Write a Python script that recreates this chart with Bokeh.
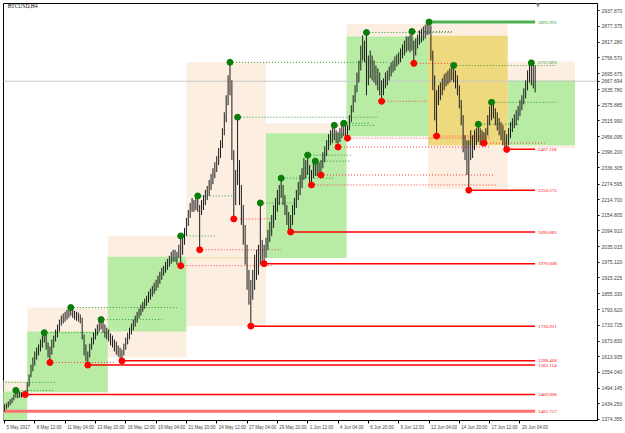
from bokeh.plotting import figure
from bokeh.models import Range1d, FixedTicker, CustomJSTickFormatter, LinearAxis
from bokeh.embed import file_html
from bokeh.resources import INLINE

# ---- H4 bars (BTCUSD), bar index 0 = 5 May 2017 20:00 ----
high = [1432, 1436, 1443, 1451, 1458, 1470, 1485, 1478, 1481, 1478,
        1481, 1485, 1516, 1546, 1584, 1611, 1634, 1649, 1661, 1680,
        1695, 1706, 1699, 1668, 1653, 1680, 1695, 1718, 1737, 1756,
        1771, 1779, 1786, 1794, 1798, 1802, 1794, 1790, 1786, 1783,
        1775, 1763, 1699, 1661, 1634, 1664, 1687, 1706, 1722, 1737,
        1752, 1756, 1748, 1737, 1725, 1718, 1703, 1695, 1680, 1672,
        1657, 1649, 1641, 1664, 1687, 1706, 1725, 1741, 1756, 1771,
        1786, 1798, 1813, 1824, 1836, 1847, 1863, 1874, 1885, 1897,
        1908, 1924, 1939, 1954, 1962, 1977, 1988, 2000, 2015, 2023,
        2023, 2015, 2042, 2076, 2069, 2107, 2145, 2175, 2202, 2221,
        2213, 2221, 2229, 2194, 2213, 2232, 2252, 2267, 2290, 2313,
        2335, 2358, 2381, 2412, 2442, 2488, 2549, 2614, 2690, 2740,
        2671, 2404, 2328, 2530, 2366, 2271, 2194, 2118, 2042, 1946,
        1908, 1946, 2004, 2023, 2042, 2202, 2061, 2042, 2069, 2099,
        2130, 2156, 2194, 2221, 2252, 2271, 2297, 2271, 2232, 2194,
        2168, 2156, 2194, 2221, 2252, 2282, 2309, 2335, 2374, 2366,
        2385, 2347, 2328, 2354, 2362, 2354, 2358, 2366, 2396, 2419,
        2442, 2465, 2480, 2488, 2499, 2480, 2473, 2488, 2503, 2507,
        2496, 2499, 2538, 2576, 2614, 2652, 2701, 2747, 2804, 2843,
        2823, 2854, 2766, 2785, 2766, 2747, 2728, 2717, 2701, 2671,
        2679, 2701, 2709, 2724, 2740, 2747, 2763, 2770, 2778, 2793,
        2808, 2823, 2839, 2839, 2846, 2858, 2823, 2831, 2846, 2862,
        2869, 2877, 2884, 2892, 2894, 2881, 2785, 2690, 2633, 2652,
        2663, 2679, 2694, 2701, 2709, 2717, 2724, 2728, 2709, 2690,
        2652, 2595, 2538, 2461, 2442, 2442, 2480, 2461, 2480, 2488,
        2503, 2488, 2480, 2473, 2488, 2538, 2572, 2587, 2587, 2564,
        2549, 2526, 2511, 2499, 2480, 2465, 2488, 2511, 2526, 2541,
        2557, 2572, 2595, 2614, 2640, 2671, 2709, 2736, 2738, 2736, 2728]

low = [1405, 1413, 1420, 1428, 1436, 1447, 1458, 1455, 1458, 1458,
       1462, 1469, 1474, 1500, 1535, 1558, 1580, 1603, 1619, 1634,
       1649, 1668, 1641, 1611, 1592, 1622, 1649, 1672, 1687, 1710,
       1733, 1741, 1748, 1756, 1763, 1771, 1763, 1756, 1752, 1748,
       1741, 1680, 1619, 1596, 1582, 1611, 1641, 1661, 1680, 1695,
       1710, 1718, 1706, 1687, 1680, 1672, 1657, 1649, 1634, 1622,
       1615, 1607, 1598, 1619, 1641, 1661, 1680, 1699, 1714, 1729,
       1744, 1760, 1771, 1786, 1798, 1809, 1821, 1832, 1844, 1855,
       1866, 1878, 1893, 1908, 1924, 1935, 1946, 1958, 1969, 1977,
       1977, 1966, 1992, 1962, 2004, 2042, 2076, 2114, 2145, 2168,
       2168, 2175, 2168, 2023, 2156, 2175, 2194, 2213, 2229, 2252,
       2274, 2297, 2320, 2347, 2374, 2412, 2461, 2511, 2576, 2614,
       2366, 2141, 2194, 2271, 2194, 2118, 2042, 1966, 1870, 1813,
       1731, 1832, 1870, 1908, 1927, 1966, 1977, 1970, 1992, 2023,
       2053, 2076, 2107, 2137, 2168, 2194, 2221, 2194, 2156, 2118,
       2099, 2091, 2118, 2156, 2183, 2213, 2232, 2259, 2290, 2297,
       2309, 2278, 2271, 2297, 2305, 2305, 2320, 2309, 2335, 2358,
       2381, 2404, 2423, 2431, 2442, 2431, 2416, 2435, 2450, 2458,
       2458, 2450, 2480, 2511, 2549, 2587, 2625, 2663, 2709, 2747,
       2740, 2614, 2652, 2679, 2671, 2663, 2652, 2633, 2614, 2591,
       2614, 2640, 2652, 2671, 2686, 2701, 2709, 2724, 2732, 2740,
       2755, 2766, 2778, 2785, 2778, 2785, 2736, 2766, 2793, 2808,
       2816, 2823, 2831, 2843, 2846, 2747, 2633, 2518, 2458, 2576,
       2595, 2614, 2633, 2648, 2656, 2663, 2671, 2663, 2640, 2614,
       2564, 2499, 2396, 2366, 2309, 2251, 2366, 2374, 2404, 2423,
       2435, 2423, 2419, 2431, 2431, 2461, 2499, 2518, 2526, 2499,
       2480, 2461, 2442, 2423, 2412, 2407, 2423, 2450, 2473, 2488,
       2499, 2518, 2534, 2557, 2579, 2602, 2633, 2663, 2652, 2640, 2625]

# ---- swing points (bar index) and how far their dotted levels run ----
ph_bars = [6, 21, 35, 51, 93, 102, 119, 123, 135, 146, 160, 164, 174, 179, 191, 215, 237, 250, 257]
ph_ends = [26, 55, 92, 83, 112, 121, 203, 197, 154, 174, 183, 182, 196, 193, 236, 236, 291, 271, 291]
pl_bars = [24, 93, 103, 121, 162, 167, 176, 181, 199, 216, 228, 253]
pl_ends = [58, 142, 146, 141, 260, 258, 256, 256, 223, 239, 256, 285]
extra_hi_levels = [1516]
extra_hi_start = [-1]
extra_hi_end = [27]

# ---- solid unbroken levels ----
res_levels = [2893.991]
res_start = [224]
res_labels = ["2893.991"]
sup_levels = [2407.118, 2250.575, 2090.883, 1970.008, 1730.921, 1598.468, 1582.114, 1469.008]
sup_start = [265, 245, 151, 137, 130, 62, 44, 11]
sup_labels = ["2407.118", "2250.575", "2090.883", "1970.008", "1730.921", "1598.468", "1582.114", "1469.008"]
base_level = 1405.757
base_label = "1405.757"
top_dot_bar = 278
top_label_value = 2737.893
top_label = "2737.893"
level_end = 280

# ---- weekly zones ----
wk_x0 = [-1, 12, 54.5, 96, 138, 180.5, 223.5, 265.5]
wk_x1 = [12, 54.5, 96, 138, 180.5, 223.5, 265.5, 301]
wk_top = [1523, 1802, 2076, 2740, 2507, 2888, 2888, 2743]
wk_bot = [1300, 1478, 1611, 1731, 1992, 2457, 2255, 2412]
in_x0 = [-1, 12, 54.5, 138, 180.5, 265.5]
in_x1 = [12, 54.5, 96, 180.5, 223.5, 301]
in_top = [1481, 1710, 1996, 2469, 2839, 2671]
in_bot = [1300, 1478, 1710, 1992, 2457, 2423]
yel_x0, yel_x1, yel_top, yel_bot = [223.5], [265.5], [2842], [2423]
khaki_level, khaki_x0, khaki_x1 = 1992, 96.5, 131.8

current_price = 2667.694

# ---- axes ----
price_ticks = [2937.870, 2877.375, 2817.280, 2756.570, 2695.675, 2635.780, 2575.885, 2515.990,
               2456.095, 2396.200, 2336.305, 2274.595, 2214.700, 2154.805, 2094.910, 2035.015,
               1975.120, 1915.225, 1855.330, 1793.620, 1733.725, 1673.830, 1613.935, 1554.040,
               1494.145, 1434.250, 1374.355]
time_ticks = [0, 16, 32, 48, 64, 80, 96, 112, 128, 144, 160, 176, 192, 208, 224, 240, 256, 272]
time_labels = ["5 May 2017", "8 May 12:00", "11 May 04:00", "13 May 20:00", "16 May 12:00",
               "19 May 04:00", "21 May 20:00", "24 May 12:00", "27 May 04:00", "29 May 20:00",
               "1 Jun 12:00", "4 Jun 04:00", "6 Jun 20:00", "9 Jun 12:00", "12 Jun 04:00",
               "14 Jun 20:00", "17 Jun 12:00", "20 Jun 04:00"]

FONT = "Liberation Sans"
FS_TIME = 4.5
PEACH = "#fcefe2"
GREEN = "#b8eca4"
YELLOW = "#efd97f"

X0, X1 = -0.5, 312.9
p = figure(width=625, height=433, output_backend="svg", toolbar_location=None,
           x_range=Range1d(X0, X1), y_range=Range1d(1370, 2965),
           y_axis_location="right", min_border_left=3, min_border_top=3,
           min_border_right=25, min_border_bottom=13)
p.grid.visible = False
p.background_fill_color = "white"
p.border_fill_color = "white"
p.outline_line_color = "#000000"
p.outline_line_width = 1

# zones
p.quad(left=wk_x0, right=wk_x1, top=wk_top, bottom=wk_bot, fill_color=PEACH, line_color=None)
p.quad(left=in_x0, right=in_x1, top=in_top, bottom=in_bot, fill_color=GREEN, line_color=None)
p.quad(left=yel_x0, right=yel_x1, top=yel_top, bottom=yel_bot, fill_color=YELLOW, line_color=None)
p.segment(x0=[khaki_x0], y0=[khaki_level], x1=[khaki_x1], y1=[khaki_level], line_color="#eedc9a", line_width=1)

# current price line
p.segment(x0=[-1], y0=[current_price], x1=[320], y1=[current_price], line_color="#c8c8c8", line_width=1)

# dotted swing levels
ph_y = [high[b] for b in ph_bars]
pl_y = [low[b] for b in pl_bars]
p.segment(x0=ph_bars, y0=ph_y, x1=ph_ends, y1=ph_y, line_color="#2f9a2f", line_dash="1 2", line_width=1)
p.segment(x0=extra_hi_start, y0=extra_hi_levels, x1=extra_hi_end, y1=extra_hi_levels,
          line_color="#2f9a2f", line_dash="1 2", line_width=1)
p.segment(x0=pl_bars, y0=pl_y, x1=pl_ends, y1=pl_y, line_color="#ff3b3b", line_dash="1 2", line_width=1)

# solid levels
p.segment(x0=[-1], y0=[base_level], x1=[level_end], y1=[base_level], line_color="#ff6f6f", line_width=3)
p.segment(x0=sup_start, y0=sup_levels, x1=[level_end] * len(sup_levels), y1=sup_levels,
          line_color="#ff0000", line_width=1.5)
p.segment(x0=res_start, y0=res_levels, x1=[level_end] * len(res_levels), y1=res_levels,
          line_color="#4fb04f", line_width=3)

# bars
idx = list(range(len(high)))
p.segment(x0=idx, y0=low, x1=idx, y1=high, line_color="#1c1c1c", line_width=1)

# swing dots
p.scatter(x=ph_bars + res_start + [top_dot_bar], y=ph_y + [high[b] for b in res_start] + [high[top_dot_bar]],
          size=6, fill_color="#0a7d0a", line_color="#0a7d0a")
p.scatter(x=pl_bars + sup_start, y=pl_y + [low[b] for b in sup_start],
          size=6, fill_color="#ff0000", line_color="#ff0000")

# level labels
lx = level_end + 1.5
p.text(x=[lx] * len(sup_levels), y=sup_levels, text=sup_labels, text_color="#ff0000",
       text_font=FONT, text_font_size="5px", text_baseline="middle")
p.text(x=[lx], y=[base_level], text=[base_label], text_color="#ff0000",
       text_font=FONT, text_font_size="5px", text_baseline="middle")
p.text(x=[lx] * len(res_levels), y=res_levels, text=res_labels, text_color="#2f9a2f",
       text_font=FONT, text_font_size="5px", text_baseline="middle")
p.text(x=[lx], y=[top_label_value], text=[top_label], text_color="#2f9a2f",
       text_font=FONT, text_font_size="5px", text_baseline="middle")

# symbol caption and shift marker
p.text(x=[1.7], y=[2954], text=["BTCUSD,H4"], text_color="#000000",
       text_font=FONT, text_font_size="5.5px", text_baseline="middle")
p.scatter(x=[lx], y=[2961], marker="inverted_triangle", size=5, fill_color="#909090", line_color=None)

# price axis (with the current price shown on the scale)
ya = p.yaxis[0]
ya.ticker = FixedTicker(ticks=price_ticks + [current_price])
ya.formatter = CustomJSTickFormatter(code="return tick.toFixed(3);")
ya.major_label_text_font = FONT
ya.major_label_text_font_size = "5px"
ya.major_tick_out = 2
ya.major_tick_in = 0
ya.minor_tick_out = 0
ya.minor_tick_in = 0
ya.major_label_standoff = 2
ya.axis_line_color = "#000000"

# time axis: tick marks on the first axis, left-aligned labels on a second one
xa = p.xaxis[0]
xa.ticker = FixedTicker(ticks=time_ticks)
xa.major_label_overrides = {t: "" for t in time_ticks}
xa.major_label_text_font_size = "0px"
xa.major_tick_out = 3
xa.major_tick_in = 0
xa.minor_tick_out = 0
xa.minor_tick_in = 0
xa.major_label_standoff = 0
xa.axis_line_color = "#000000"

EM = {"0": .556, "1": .556, "2": .556, "3": .556, "4": .556, "5": .556, "6": .556, "7": .556,
      "8": .556, "9": .556, " ": .278, ":": .278, "M": .833, "a": .556, "y": .5, "J": .5,
      "u": .556, "n": .556}
px_per_bar = (625 - 25 - 3) / (X1 - X0)
label_pos = [t + (sum(EM.get(c, .55) for c in lab) * FS_TIME / 2 + 2) / px_per_bar
             for t, lab in zip(time_ticks, time_labels)]
xa2 = LinearAxis(ticker=FixedTicker(ticks=label_pos),
                 major_label_overrides={pos: lab for pos, lab in zip(label_pos, time_labels)})
xa2.major_label_text_font = FONT
xa2.major_label_text_font_size = "%gpx" % FS_TIME
xa2.major_tick_out = 0
xa2.major_tick_in = 0
xa2.minor_tick_out = 0
xa2.minor_tick_in = 0
xa2.major_label_standoff = 1
xa2.axis_line_color = None
p.add_layout(xa2, "below")

open("out.html", "w").write(file_html(p, INLINE))
